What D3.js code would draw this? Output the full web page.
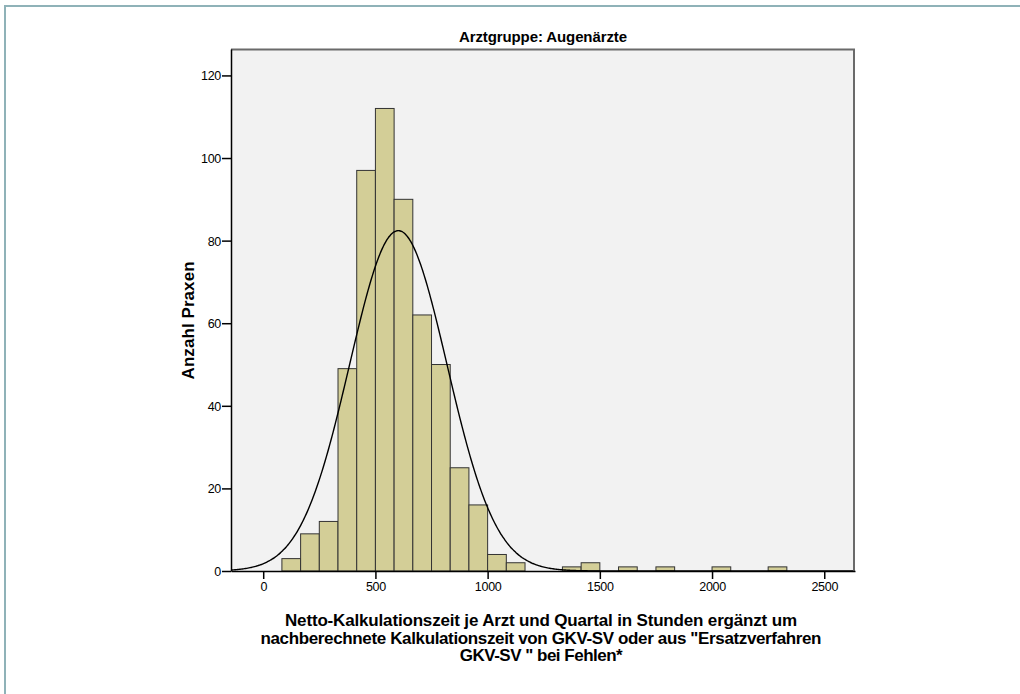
<!DOCTYPE html>
<html>
<head>
<meta charset="utf-8">
<script src="https://cdn.jsdelivr.net/npm/d3@7"></script>
<style>
  body { margin: 0; background: #ffffff; }
  text { font-family: "Liberation Sans", Arial, sans-serif; fill: #000; }
  .tick text { font-size: 12.5px; letter-spacing: -0.3px; fill: #000; }
</style>
</head>
<body>
<div id="chart"></div>
<script>
// Histogram: Arztgruppe Augenärzte
// lower edge of each bin (hours) and the number of practices in it
var binWidth = 1000 / 12;
var binLower = [83.3, 166.7, 250, 333.3, 416.7, 500, 583.3, 666.7, 750, 833.3,
                916.7, 1000, 1083.3, 1333.3, 1416.7, 1583.3, 1750, 2000, 2250];
var binCount = [3, 9, 12, 49, 97, 112, 90, 62, 50, 25,
                16, 4, 2, 1, 2, 1, 1, 1, 1];

var xTicks = [0, 500, 1000, 1500, 2000, 2500];
var yTicks = [0, 20, 40, 60, 80, 100, 120];

// normal curve
var curveMean = 602;
var curveSd = 217;
var curveN = 538;

var titleText = "Arztgruppe: Augenärzte";
var yLabel = "Anzahl Praxen";
var xLabelLines = [
  "Netto-Kalkulationszeit je Arzt und Quartal in Stunden ergänzt um",
  "nachberechnete Kalkulationszeit von GKV-SV oder aus \"Ersatzverfahren",
  "GKV-SV \" bei Fehlen*"
];
var xLabelWidths = [512, 561, null];

var svgWidth = 1020, svgHeight = 694;
var margin = { top: 49, right: 165, bottom: 123, left: 231 };
var chartWidth = svgWidth - margin.left - margin.right;
var chartHeight = svgHeight - margin.top - margin.bottom;

var svg = d3.select("#chart").append("svg")
  .attr("width", svgWidth)
  .attr("height", svgHeight);

// outer frame lines (top and left only)
svg.append("line").attr("x1", 5).attr("x2", svgWidth).attr("y1", 6).attr("y2", 6)
  .attr("stroke", "#8fb2b8").attr("stroke-width", 2);
svg.append("line").attr("x1", 5).attr("x2", 5).attr("y1", 5).attr("y2", svgHeight)
  .attr("stroke", "#8fb2b8").attr("stroke-width", 2);

var chartGroup = svg.append("g")
  .attr("transform", `translate(${margin.left}, ${margin.top})`);

var x = d3.scaleLinear().domain([-143.5, 2637]).range([0, chartWidth]);
var y = d3.scaleLinear().domain([0, 126.4]).range([chartHeight, 0]);

// plot background
chartGroup.append("rect")
  .attr("width", chartWidth)
  .attr("height", chartHeight)
  .attr("fill", "#f2f2f2");

// bars
var bins = binLower.map((d, i) => ({ lo: d, n: binCount[i] }));
chartGroup.selectAll("rect.bar")
  .data(bins)
  .enter()
  .append("rect")
  .attr("class", "bar")
  .attr("x", d => x(d.lo))
  .attr("y", d => y(d.n))
  .attr("width", d => x(d.lo + binWidth) - x(d.lo))
  .attr("height", d => y(0) - y(d.n))
  .attr("fill", "#d3ce97")
  .attr("stroke", "#333")
  .attr("stroke-width", 1);

// normal curve
var curvePts = d3.range(-143.5, 2637, 5).map(v => {
  var z = (v - curveMean) / curveSd;
  return [v, curveN * binWidth / (curveSd * Math.sqrt(2 * Math.PI)) * Math.exp(-0.5 * z * z)];
});
chartGroup.append("path")
  .datum(curvePts)
  .attr("fill", "none")
  .attr("stroke", "#000")
  .attr("stroke-width", 1.4)
  .attr("d", d3.line().x(d => x(d[0])).y(d => y(d[1])).curve(d3.curveBasis));

// top and right border of plot area
chartGroup.append("path")
  .attr("d", `M0,0.5H${chartWidth - 1}V${chartHeight}`)
  .attr("fill", "none")
  .attr("stroke", "#6a6a6a")
  .attr("stroke-width", 2);

// axes
var bottomAxis = d3.axisBottom(x).tickValues(xTicks).tickFormat(d3.format("d"))
  .tickSize(8).tickSizeOuter(0).tickPadding(3);
var leftAxis = d3.axisLeft(y).tickValues(yTicks).tickFormat(d3.format("d"))
  .tickSize(9).tickSizeOuter(0).tickPadding(1);

var xAxis = chartGroup.append("g")
  .attr("transform", `translate(0, ${chartHeight})`)
  .call(bottomAxis);
var yAxis = chartGroup.append("g").call(leftAxis);

[xAxis, yAxis].forEach(g => {
  g.select(".domain").attr("stroke", "#000").attr("stroke-width", 1.5);
  g.selectAll(".tick line").attr("stroke", "#000").attr("stroke-width", 1.5);
  g.selectAll(".tick text").attr("font-family", null).attr("font-size", null);
});
yAxis.selectAll(".tick text").attr("dy", "0.36em");

// title
chartGroup.append("text")
  .attr("x", chartWidth / 2)
  .attr("y", -7)
  .attr("text-anchor", "middle")
  .attr("font-size", "15px")
  .attr("font-weight", "700")
  .attr("textLength", 168)
  .attr("lengthAdjust", "spacing")
  .text(titleText);

// y axis label
chartGroup.append("text")
  .attr("transform", `translate(${-37}, ${chartHeight * 0.52}) rotate(-90)`)
  .attr("text-anchor", "middle")
  .attr("font-size", "17px")
  .attr("font-weight", "700")
  .attr("textLength", 118)
  .attr("lengthAdjust", "spacing")
  .text(yLabel);

// x axis label
var xLabel = chartGroup.append("g").selectAll("text")
  .data(xLabelLines)
  .enter()
  .append("text")
  .attr("x", chartWidth / 2 - 2)
  .attr("y", (d, i) => chartHeight + 55 + i * 17.5)
  .attr("text-anchor", "middle")
  .attr("font-size", "17px")
  .attr("font-weight", "700")
  .text(d => d);
xLabel.filter((d, i) => xLabelWidths[i] != null)
  .attr("textLength", (d, i) => xLabelWidths[i])
  .attr("lengthAdjust", "spacing");
xLabel.filter((d, i) => xLabelWidths[i] == null)
  .attr("letter-spacing", "-0.5px");
</script>
</body>
</html>
